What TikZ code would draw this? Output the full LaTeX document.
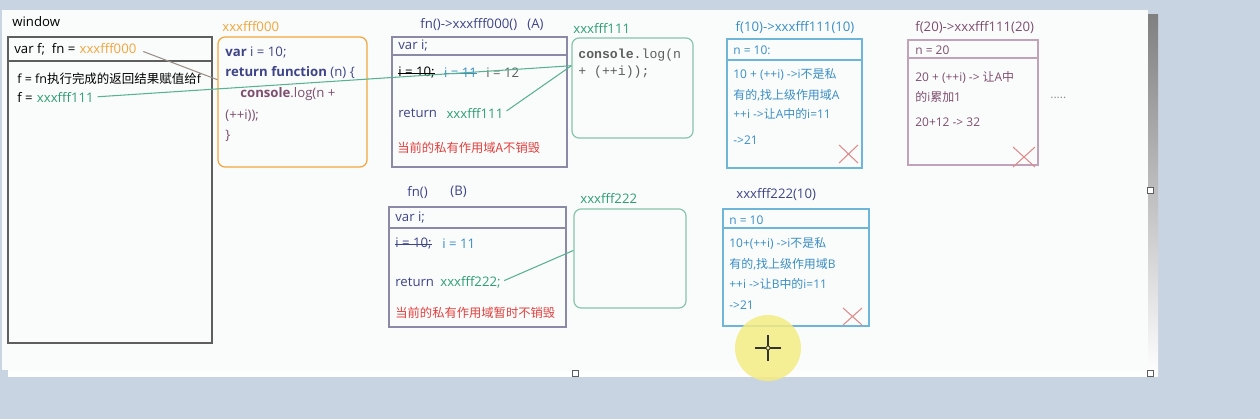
\documentclass[tikz,border=0pt]{standalone}
\usepackage{fontspec}
\setmainfont{Open Sans}
\newfontfamily\cjk{Noto Sans CJK SC}
\newfontfamily\codefont{Liberation Mono}
\usetikzlibrary{positioning, fit, calc}
\definecolor{desk}{HTML}{C8D4E2}
\definecolor{paper}{HTML}{FAFCFB}
\definecolor{shade}{HTML}{B3BFCC}
\definecolor{inkgray}{HTML}{5E5E5E}
\definecolor{heaporange}{HTML}{F2A53C}
\definecolor{scopeedge}{HTML}{8A8AA6}
\definecolor{navy}{HTML}{3E4488}
\definecolor{heapgreen}{HTML}{2F9E74}
\definecolor{heapedge}{HTML}{88C4AE}
\definecolor{callblue}{HTML}{3A8DC6}
\definecolor{calledge}{HTML}{6DB6DA}
\definecolor{mauve}{HTML}{7E4E6E}
\definecolor{mauveedge}{HTML}{C2A2B8}
\definecolor{warnred}{HTML}{E2403E}
\definecolor{crossred}{HTML}{E08A8A}
\definecolor{linkgray}{HTML}{9A8F86}
\definecolor{cursor}{HTML}{F4EC82}

\begin{document}
\begin{tikzpicture}[
  x=0.02cm, y=-0.02cm,
  txt/.style={anchor=west, inner sep=0pt, font=\fontsize{7.5}{8.5}\selectfont},
  small/.style={txt, font=\fontsize{6.8}{7.8}\selectfont},
  code/.style={txt, font=\codefont\fontsize{7.5}{8.5}\selectfont},
  frame/.style={draw, inner sep=0pt, line width=0.7pt},
  heapbox/.style={frame, rounded corners=4pt},
  ptr/.style={heapgreen!80!white, line width=0.6pt, shorten <=2pt},
  link/.style={linkgray, line width=0.6pt, shorten <=4pt},
  strike/.style={line width=0.5pt},
  cross/.style={crossred, line width=0.6pt},
  handle/.style={fill=white, draw=inkgray, line width=0.4pt}
]
\useasboundingbox (0,0) rectangle (1260,419);

% ── Desk and canvas ──
\fill[desk] (0,0) rectangle (1260,419);
\fill[shade] (8,14) rectangle (1158,376);
\fill[paper] (2,10) rectangle (1148,370);

% ── window ──
\node[txt] (wtitle) at (12,22) {window};
\node[frame, draw=inkgray, fit={(8,37) (212,343)}] (win) {};
\draw[inkgray, line width=0.7pt] (8,61) -- (212,61);
\node[txt] (wvar) at (14,49) {var f;\ \ fn =};
\node[txt, heaporange, right=2pt of wvar] (wfn) {xxxfff000};
\node[txt, font=\fontsize{7.1}{8}\selectfont] (wres) at (17,79) {f = fn{\cjk 执行完成的返回结果赋值给}f};
\node[txt] (wf0) at (17,97) {f =};
\node[txt, heapgreen, right=2pt of wf0] (wf) {xxxfff111};

% ── Heap xxxfff000 ──
\node[txt, heaporange] (h0title) at (222,27) {xxxfff000};
\node[heapbox, draw=heaporange, fit={(218,37) (367,167)}] (heap0) {};
\node[txt, navy] (h0l1) at (225,53) {\textbf{var} i = 10;};
\node[txt, navy] (h0l2) at (225,73) {\textbf{return function} (n) \{};
\node[txt, mauve] (h0l3) at (240,94) {\textbf{console}.log(n +};
\node[txt, mauve] (h0l4) at (225,116) {(++i));};
\node[txt, mauve] (h0l5) at (225,136) {\}};

% ── Scope A ──
\node[txt, navy, anchor=center] (atitle) at (482,25) {fn()->xxxfff000()\ \ \ (A)};
\node[frame, draw=scopeedge, fit={(392,37) (567,167)}] (scopeA) {};
\draw[scopeedge, line width=0.7pt] (392,55) -- (567,55);
\node[txt, navy] (avar) at (398,46) {var i;};
\node[txt] (ai10) at (398,73) {i = 10;};
\node[txt, callblue, right=5pt of ai10] (ai11) {i = 11};
\node[txt, inkgray, right=5pt of ai11] (ai12) {i = 12};
\draw[strike] (ai10.west) -- (ai10.east);
\draw[strike, callblue] (ai11.west) -- (ai11.east);
\node[txt, navy] (aret) at (398,113) {return};
\node[txt, heapgreen, right=5pt of aret] (retA) {xxxfff111};
\node[txt, warnred, font=\cjk\fontsize{7}{8}\selectfont] (akeep) at (397,148) {当前的私有作用域A不销毁};

% ── Heap xxxfff111 ──
\node[txt, heapgreen] (h1title) at (573,28) {xxxfff111};
\node[heapbox, draw=heapedge, fit={(572,38) (693,138)}] (heap1) {};
\node[code, inkgray] (h1l1) at (578,55) {\textbf{console}.log(n};
\node[code, inkgray] (h1l2) at (578,72) {+ (++i));};

% ── Call f(10) ──
\node[txt, callblue, anchor=center] (c10title) at (795,28) {f(10)->xxxfff111(10)};
\node[frame, draw=calledge, fit={(727,39) (862,168)}] (callA10) {};
\draw[calledge, line width=0.7pt] (727,60) -- (862,60);
\node[small, callblue] (c10n) at (733,50) {n = 10:};
\node[small, callblue] (c10l1) at (733,75) {10 + (++i) ->i{\cjk 不是私}};
\node[small, callblue] (c10l2) at (733,95) {{\cjk 有的},{\cjk 找上级作用域}A};
\node[small, callblue] (c10l3) at (733,114) {++i ->{\cjk 让}A{\cjk 中的}i=11};
\node[small, callblue] (c10l4) at (733,140) {->21};
\draw[cross] (839,145) -- (858,163) (839,163) -- (858,145);

% ── Call f(20) ──
\node[txt, mauve] (c20title) at (915,28) {f(20)->xxxfff111(20)};
\node[frame, draw=mauveedge, fit={(908,40) (1038,165)}] (callA20) {};
\draw[mauveedge, line width=0.7pt] (908,58) -- (1038,58);
\node[small, mauve] (c20n) at (915,50) {n = 20};
\node[small, mauve] (c20l1) at (915,77) {20 + (++i) -> {\cjk 让}A{\cjk 中}};
\node[small, mauve] (c20l2) at (915,97) {{\cjk 的}i{\cjk 累加}1};
\node[small, mauve] (c20l3) at (915,122) {20+12 -> 32};
\draw[cross] (1013,147) -- (1035,167) (1013,167) -- (1035,147);
\node[small, inkgray!70] (more) at (1050,98) {.....};

% ── Scope B ──
\node[txt, navy] (btitle) at (407,192) {fn()};
\node[txt, navy] (btag) at (450,192) {(B)};
\node[frame, draw=scopeedge, fit={(389,207) (566,327)}] (scopeB) {};
\draw[scopeedge, line width=0.7pt] (389,228) -- (566,228);
\node[txt, navy] (bvar) at (395,218) {var i;};
\node[txt, navy] (bi10) at (395,244) {i = 10;};
\draw[strike, navy] (bi10.west) -- (bi10.east);
\node[txt, callblue] (bi11) at (442,244) {i = 11};
\node[txt, navy] (bret) at (395,282) {return};
\node[txt, heapgreen] (retB) at (440,282) {xxxfff222;};
\node[txt, warnred, font=\cjk\fontsize{7}{8}\selectfont] (bkeep) at (395,313) {当前的私有作用域暂时不销毁};

% ── Heap xxxfff222 ──
\node[txt, heapgreen] (h2title) at (580,198) {xxxfff222};
\node[heapbox, draw=heapedge, fit={(574,209) (686,308)}] (heap2) {};

% ── Call xxxfff222(10) ──
\node[txt, navy] (cb10title) at (736,194) {xxxfff222(10)};
\node[frame, draw=calledge, fit={(723,209) (869,326)}] (callB10) {};
\draw[calledge, line width=0.7pt] (723,228) -- (869,228);
\node[small, callblue] (cb10n) at (729,220) {n = 10};
\node[small, callblue] (cb10l1) at (729,244) {10+(++i) ->i{\cjk 不是私}};
\node[small, callblue] (cb10l2) at (729,264) {{\cjk 有的},{\cjk 找上级作用域}B};
\node[small, callblue] (cb10l3) at (729,284) {++i ->{\cjk 让}B{\cjk 中的}i=11};
\node[small, callblue] (cb10l4) at (729,305) {->21};
\draw[cross] (843,308) -- (862,325) (843,325) -- (862,308);

% ── References ──
\coordinate (heap0in) at ($(heap0.north west)!0.33!(heap0.south west)$);
\coordinate (heap1in) at ($(heap1.north west)!0.28!(heap1.south west)$);
\coordinate (heap2in) at ($(heap2.north west)!0.42!(heap2.south west)$);
\draw[link] (wfn.east) -- (heap0in);
\draw[ptr] (wf.east) -- (heap1in);
\draw[ptr] (retA.east) -- (heap1in);
\draw[ptr] (retB.east) -- (heap2in);

% ── Pointer highlight ──
\fill[cursor, opacity=0.85] (768,348) circle [radius=0.66cm];
\draw[black!80, line width=0.8pt] (755,348) -- (781,348) (768,335) -- (768,361);
\draw[black!80, fill=cursor, line width=0.4pt] (768,348) circle [radius=0.04cm];

% ── Selection handles ──
\draw[handle] (1147,187) rectangle (1153,193);
\draw[handle] (572,370) rectangle (578,376);
\draw[handle] (1147,370) rectangle (1153,376);

\end{tikzpicture}
\end{document}
